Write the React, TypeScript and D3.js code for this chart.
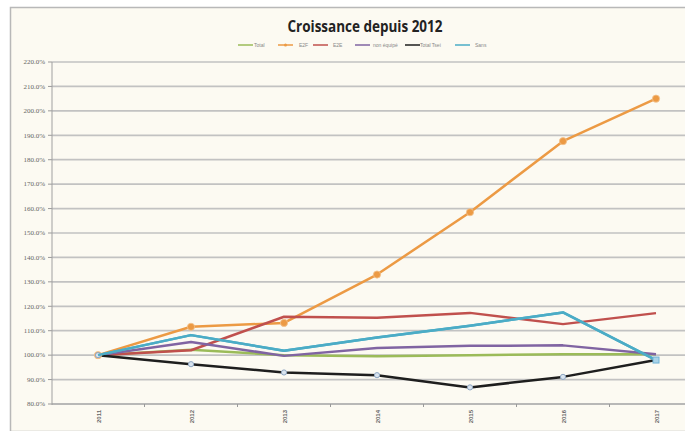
import React from "react";
import * as d3 from "d3";

const years = ["2011", "2012", "2013", "2014", "2015", "2016", "2017"];
const yTicks = [80, 90, 100, 110, 120, 130, 140, 150, 160, 170, 180, 190, 200, 210, 220];

const seriesNames = ["Total", "E2F", "E2E", "non équipé", "Total Tsei", "Sans"];
const seriesColors = ["#9bbb59", "#ec9a44", "#c0504d", "#8064a2", "#1e1e1e", "#4bacc6"];

const totalValues = [100, 102.2, 100, 99.5, 100, 100.4, 100.4];
const e2fValues = [100, 111.6, 113.2, 133, 158.5, 187.6, 205];
const e2eValues = [100, 102, 115.7, 115.3, 117.3, 112.7, 117.2];
const nonValues = [100, 105.4, 99.7, 102.9, 103.8, 104, 100.4];
const tseiValues = [100, 96.3, 92.9, 91.8, 86.8, 91.1, 98];
const sansValues = [100, 108.2, 101.8, 107.2, 112, 117.5, 98];

const allValues = [totalValues, e2fValues, e2eValues, nonValues, tseiValues, sansValues];

export default function App() {
  const W = 685, H = 431;
  const x = d3.scaleBand().domain(years).range([51.5, 702.5]);
  const y = d3.scaleLinear().domain([80, 220]).range([404, 62]);
  const cx = (yr: string) => (x(yr) as number) + x.bandwidth() / 2;
  const line = d3.line<number>().x((_, i) => cx(years[i])).y((v) => y(v));

  const legendX = [238, 278, 313, 355, 405, 455];
  const legendTextX = [254, 299, 333, 373, 420, 475];

  return (
    <svg width={W} height={H} style={{ position: "absolute", left: 0, top: 0 }}>
      <rect x={0} y={0} width={W} height={H} fill="#ffffff" />
      <rect x={10.5} y={7.5} width={W} height={H - 7} fill="#fcfaf2" stroke="#b8b8b8" strokeWidth={1.5} />
      <text x={365} y={32} textAnchor="middle" fontFamily="Open Sans, sans-serif" fontWeight="bold" fontSize={15.5} fill="#222" textLength={155} lengthAdjust="spacingAndGlyphs">
        Croissance depuis 2012
      </text>
      {seriesNames.map((n, i) => (
        <g key={n}>
          <line x1={legendX[i]} x2={legendX[i] + 15} y1={45} y2={45} stroke={seriesColors[i]} strokeWidth={1.5} />
          {i === 1 && <circle cx={legendX[i] + 7.5} cy={45} r={1.5} fill={seriesColors[i]} />}
          <text x={legendTextX[i]} y={47} fontFamily="Liberation Sans, sans-serif" fontSize={5} fill="#888">{n}</text>
        </g>
      ))}
      {yTicks.map((t) => (
        <g key={t}>
          <line x1={52} x2={W} y1={y(t)} y2={y(t)} stroke="#c2c2c2" strokeWidth={1.7} />
          <line x1={48} x2={52} y1={y(t)} y2={y(t)} stroke="#999" strokeWidth={1} />
          <text x={45} y={y(t) + 2.3} textAnchor="end" fontFamily="Liberation Serif, serif" fontSize={7} fill="#666">
            {d3.format(".1f")(t) + "%"}
          </text>
        </g>
      ))}
      <line x1={52} x2={52} y1={62} y2={405} stroke="#a0a0a0" strokeWidth={1} />
      <line x1={52} x2={W} y1={404} y2={404} stroke="#a0a0a0" strokeWidth={1.2} />
      {years.slice(1).map((yr) => (
        <line key={"t" + yr} x1={x(yr) as number} x2={x(yr) as number} y1={404} y2={407} stroke="#999" strokeWidth={1} />
      ))}
      {years.map((yr) => (
        <text key={yr} transform={`translate(${cx(yr) + 2.5},410) rotate(-90)`} textAnchor="end" fontFamily="Liberation Sans, sans-serif" fontWeight="bold" fontSize={6} fill="#666">
          {yr}
        </text>
      ))}
      {allValues.map((vals, i) => (
        <path key={"s" + i} d={line(vals) as string} fill="none" stroke={seriesColors[i]} strokeWidth={2.5} strokeLinejoin="round" />
      ))}
      {e2fValues.map((v, i) => (
        <circle key={"m1" + i} cx={cx(years[i])} cy={y(v)} r={3.6} fill="#ec9a44" stroke="#f3c38f" strokeWidth={0.8} />
      ))}
      {tseiValues.map((v, i) => (
        <circle key={"m4" + i} cx={cx(years[i])} cy={y(v)} r={2.6} fill="#d9e4ef" stroke="#8ea6c2" strokeWidth={1} />
      ))}
      <path d={line(sansValues) as string} fill="none" stroke="#4bacc6" strokeWidth={2.5} strokeLinejoin="round" />
      <rect x={cx(years[6]) - 3} y={y(sansValues[6]) - 3} width={6} height={6} fill="#a9d3e8" stroke="#6fb2d6" strokeWidth={1} />
    </svg>
  );
}
